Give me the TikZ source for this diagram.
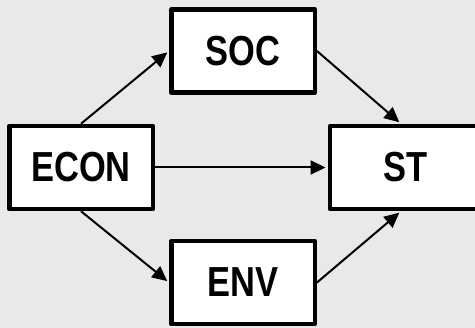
\documentclass[tikz,border=0pt]{standalone}
\usepackage{fontspec}
\setmainfont{Liberation Sans}[FakeStretch=0.82]
\usetikzlibrary{arrows.meta}
\definecolor{bgcol}{RGB}{233,233,233}
\begin{document}
\begin{tikzpicture}[x=1pt,y=-1pt,
  box/.style={draw=black, fill=white, line width=4.5pt, line join=round,
    minimum width=143.5pt, minimum height=83pt, inner sep=0pt,
    font=\fontsize{42}{42}\selectfont\bfseries},
  link/.style={line width=2pt, -{Triangle[length=15pt,width=14pt]},
    shorten >=2.2pt}]
  % backdrop and page size
  \fill[bgcol] (0,0) rectangle (475,328);
  \useasboundingbox (0,0) rectangle (475,328);
  % the four blocks
  \node[box] (econ) at (81,167.5) {ECON};
  \node[box] (soc) at (243,51) {SOC};
  \node[box] (env) at (243,282.5) {ENV};
  \node[box, minimum width=152pt] (st) at (406,167.5) {ST};
  % links between the blocks
  \draw[link] (econ.north) -- (soc.west);
  \draw[link] (econ.east) -- (st.west);
  \draw[link] (econ.south) -- (env.west);
  \draw[link] (soc.east) -- ([xshift=-5pt]st.north);
  \draw[link] (env.east) -- ([xshift=-5pt]st.south);
\end{tikzpicture}
\end{document}
